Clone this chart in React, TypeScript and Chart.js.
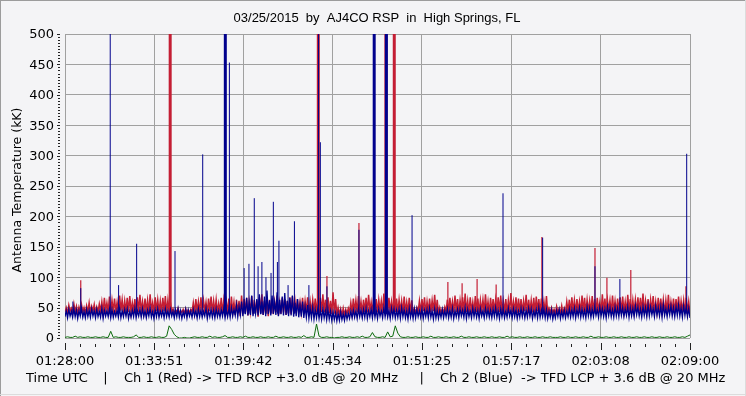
import React, { useEffect, useRef } from "react";
import { Chart, registerables } from "chart.js";

Chart.register(...registerables);

// ---------- text ----------
const TITLE = "03/25/2015  by  AJ4CO RSP  in  High Springs, FL";
const Y_TITLE = "Antenna Temperature (kK)";
const FOOTER_PARTS = [
  "Time UTC",
  "|",
  "Ch 1 (Red) -> TFD RCP +3.0 dB @ 20 MHz",
  "|",
  "Ch 2 (Blue)  -> TFD LCP + 3.6 dB @ 20 MHz",
];

// ---------- axes ----------
const xTickSeconds = [0, 351, 702, 1054, 1405, 1757, 2108, 2460];
const xTickLabels = ["01:28:00", "01:33:51", "01:39:42", "01:45:34", "01:51:25", "01:57:17", "02:03:08", "02:09:00"];
const yMin = 0;
const yMax = 500;
const yStep = 50;
const yMinorStep = 5;

// ---------- data: per 10-s bin maximum / minimum, starting 01:28:00 ----------
const BIN_S = 10;

const ch1RedMax = [
  50, 54, 49, 56, 52, 51, 55, 50, 53, 58,
  52, 55, 51, 56, 60, 66, 58, 68, 62, 65,
  59, 70, 63, 61, 66, 69, 58, 64, 67, 71,
  60, 65, 62, 72, 58, 67, 63, 61, 66, 69,
  62, 58, 48, 46, 49, 45, 47, 48, 46, 47,
  58, 64, 60, 67, 62, 59, 65, 68, 61, 63,
  57, 66, 62, 60, 65, 68, 59, 63, 61, 70,
  64, 66, 60, 69, 63, 62, 67, 72, 61, 66,
  63, 65, 60, 70, 58, 66, 64, 61, 67, 68,
  62, 64, 59, 66, 61, 67, 60, 63, 65, 64,
  66, 72, 63, 67, 61, 75, 64, 50, 48, 49,
  47, 49, 58, 65, 62, 69, 60, 63, 66, 71,
  59, 67, 64, 63, 61, 73, 62, 66, 60, 70,
  65, 63, 61, 68, 59, 66, 62, 48, 50, 61,
  64, 67, 60, 65, 62, 71, 63, 50, 48, 51,
  63, 66, 60, 70, 64, 62, 67, 73, 61, 67,
  59, 69, 65, 62, 63, 72, 60, 66, 64, 63,
  67, 70, 61, 64, 62, 74, 60, 67, 65, 64,
  61, 71, 63, 62, 66, 68, 64, 65, 60, 69,
  49, 50, 47, 52, 48, 53, 49, 60, 63, 67,
  62, 64, 60, 70, 66, 63, 61, 69, 64, 66,
  59, 72, 65, 63, 62, 70, 61, 65, 67, 68,
  60, 71, 64, 62, 63, 67, 66, 73, 61, 64,
  63, 69, 60, 66, 65, 63, 62, 71, 60, 65,
  64, 68, 61, 62, 66, 60, 55,
];

const ch1RedMin = [
  43, 41, 44, 42, 43, 40, 44, 42, 41, 43,
  42, 44, 41, 43, 44, 42, 45, 43, 41, 44,
  43, 42, 45, 41, 44, 43, 42, 44, 41, 43,
  44, 42, 43, 41, 45, 42, 44, 43, 42, 44,
  41, 43, 42, 40, 43, 41, 42, 40, 41, 42,
  43, 41, 44, 42, 43, 45, 41, 44, 42, 43,
  42, 44, 41, 43, 42, 40, 43, 38, 41, 36,
  40, 42, 37, 43, 39, 41, 35, 42, 38, 40,
  36, 41, 39, 43, 37, 40, 42, 38, 41, 39,
  43, 41, 44, 42, 40, 43, 41, 42, 44, 42,
  41, 43, 42, 40, 41, 39, 40, 38, 39, 37,
  38, 40, 42, 41, 43, 42, 44, 41, 43, 42,
  44, 41, 43, 42, 45, 41, 43, 42, 44, 41,
  43, 42, 44, 41, 43, 42, 40, 41, 42, 43,
  42, 44, 41, 43, 42, 44, 41, 40, 41, 42,
  43, 41, 44, 42, 43, 41, 45, 42, 43, 41,
  44, 42, 43, 41, 44, 42, 43, 41, 42, 44,
  41, 43, 42, 44, 41, 43, 42, 44, 41, 43,
  42, 44, 41, 43, 42, 41, 44, 42, 43, 41,
  40, 42, 41, 40, 42, 41, 40, 42, 43, 41,
  43, 42, 44, 41, 43, 42, 44, 41, 43, 42,
  44, 41, 43, 42, 45, 41, 43, 42, 44, 41,
  43, 42, 44, 41, 43, 42, 44, 42, 41, 43,
  42, 44, 41, 43, 42, 44, 41, 43, 42, 44,
  41, 43, 42, 44, 41, 42, 40,
];

const ch2BlueMax = [
  45, 47, 44, 48, 46, 45, 49, 44, 47, 46,
  48, 45, 47, 44, 49, 46, 45, 48, 47, 44,
  46, 49, 45, 47, 48, 44, 46, 49, 45, 47,
  48, 45, 46, 49, 44, 47, 48, 45, 46, 48,
  45, 47, 44, 46, 48, 45, 43, 47, 46, 44,
  47, 45, 48, 46, 44, 49, 45, 47, 46, 48,
  45, 47, 49, 46, 48, 50, 47, 55, 52, 60,
  58, 66, 57, 70, 55, 64, 72, 60, 68, 78,
  62, 70, 59, 75, 63, 68, 74, 61, 66, 70,
  58, 64, 55, 60, 52, 54, 49, 51, 47, 48,
  46, 48, 45, 47, 44, 43, 42, 41, 43, 40,
  42, 41, 44, 46, 45, 48, 46, 47, 49, 45,
  47, 49, 46, 48, 45, 50, 47, 46, 49, 48,
  46, 48, 50, 47, 45, 49, 46, 48, 47, 45,
  48, 46, 47, 49, 45, 48, 46, 44, 47, 45,
  48, 46, 49, 45, 47, 48, 46, 50, 47, 45,
  49, 47, 46, 48, 45, 49, 47, 46, 48, 50,
  46, 48, 47, 45, 49, 46, 48, 47, 45, 49,
  47, 46, 49, 48, 45, 47, 50, 46, 48, 47,
  44, 46, 43, 45, 47, 44, 46, 45, 48, 47,
  49, 47, 50, 48, 46, 51, 49, 48, 50, 47,
  51, 49, 48, 52, 50, 47, 51, 49, 53, 50,
  48, 52, 50, 49, 53, 51, 48, 52, 50, 54,
  51, 49, 53, 50, 52, 55, 49, 51, 53, 50,
  52, 54, 50, 53, 51, 49, 47,
];

const ch2BlueMin = [
  35, 33, 36, 34, 35, 32, 36, 34, 33, 35,
  34, 36, 33, 35, 34, 32, 36, 35, 33, 34,
  36, 34, 33, 35, 36, 32, 34, 35, 33, 36,
  34, 35, 33, 36, 34, 32, 35, 34, 36, 33,
  35, 34, 36, 33, 35, 34, 32, 35, 33, 36,
  34, 36, 33, 35, 34, 36, 32, 35, 34, 33,
  35, 34, 36, 33, 35, 34, 36, 37, 35, 38,
  36, 39, 37, 38, 36, 40, 37, 39, 38, 36,
  39, 37, 40, 38, 36, 39, 37, 38, 36, 37,
  35, 36, 34, 35, 33, 34, 32, 33, 31, 33,
  32, 31, 33, 30, 31, 29, 30, 28, 29, 30,
  29, 31, 32, 33, 34, 32, 35, 33, 34, 32,
  35, 33, 34, 32, 36, 33, 35, 34, 32, 35,
  33, 34, 32, 35, 33, 31, 34, 32, 33, 35,
  34, 32, 35, 33, 34, 31, 33, 32, 34, 33,
  35, 33, 34, 32, 35, 33, 36, 34, 32, 35,
  33, 35, 34, 32, 36, 33, 35, 34, 33, 35,
  34, 32, 35, 33, 34, 36, 33, 35, 32, 34,
  35, 33, 34, 36, 32, 35, 33, 34, 35, 33,
  32, 34, 31, 33, 35, 32, 34, 33, 35, 34,
  35, 33, 36, 34, 35, 33, 36, 34, 35, 37,
  34, 36, 35, 33, 37, 35, 34, 36, 35, 37,
  35, 37, 34, 36, 35, 38, 36, 34, 37, 35,
  36, 38, 35, 37, 36, 34, 37, 35, 38, 36,
  35, 37, 36, 34, 37, 35, 33,
];

const diffGreen = [
  1, 2, 1, 1, 3, 1, 2, 1, 1, 2,
  1, 1, 2, 1, 1, 2, 1, 1, 11, 1,
  2, 1, 1, 2, 1, 1, 1, 2, 5, 1,
  1, 2, 1, 1, 2, 1, 1, 2, 1, 1,
  3, 20, 14, 6, 2, 0, 0, 1, 0, 0,
  1, 2, 1, 1, 2, 1, 1, 3, 1, 2,
  1, 1, 2, 4, 1, 1, 2, 1, 1, 2,
  1, 3, 1, 1, 2, 1, 1, 2, 1, 1,
  2, 1, 1, 3, 1, 1, 2, 1, 1, 2,
  1, 1, 2, 1, 4, 1, 1, 2, 1, 23,
  3, 1, 1, 2, 1, 1, 0, 1, 1, 2,
  1, 1, 2, 1, 1, 2, 1, 3, 1, 1,
  2, 9, 2, 1, 1, 2, 1, 10, 2, 3,
  20, 8, 2, 1, 1, 2, 1, 1, 2, 1,
  1, 2, 1, 1, 3, 1, 1, 2, 1, 1,
  2, 1, 1, 2, 1, 1, 3, 1, 1, 2,
  1, 1, 2, 1, 1, 2, 1, 1, 2, 1,
  1, 2, 1, 1, 3, 1, 2, 1, 1, 2,
  1, 1, 2, 1, 1, 2, 1, 1, 2, 1,
  1, 2, 1, 1, 1, 2, 1, 1, 2, 1,
  1, 2, 1, 1, 2, 1, 1, 3, 1, 1,
  2, 1, 1, 2, 1, 1, 2, 1, 1, 2,
  1, 1, 2, 1, 1, 2, 1, 1, 2, 1,
  1, 2, 1, 1, 2, 1, 1, 2, 1, 1,
  2, 1, 1, 2, 1, 3, 5,
];

// short bursts (seconds after 01:28:00 and peak value, kK); 520 = off scale
const redSpikeTimes = [62, 1031, 1157, 1507, 1563, 1622, 1697, 1877, 2086, 2133, 2227, 2444];
const redSpikePeaks = [95, 102, 189, 92, 90, 97, 88, 166, 148, 99, 112, 85];
const redBurstTimes = [414, 997, 1263, 1296];
const redBurstPeaks = [520, 520, 520, 520];

const blueSpikeTimes = [31, 62, 178, 211, 282, 433, 542, 647, 705, 724, 745, 760, 775, 791, 811, 820, 836, 842, 878, 903, 960, 998, 1005, 1031, 1157, 1366, 1724, 1880, 2086, 2184, 2447];
const blueSpikePeaks = [60, 82, 520, 87, 155, 143, 302, 453, 115, 122, 230, 118, 125, 100, 107, 224, 125, 160, 87, 192, 87, 520, 322, 85, 178, 202, 238, 165, 118, 97, 303];
const blueBurstTimes = [631, 1217, 1265];
const blueBurstPeaks = [520, 520, 520];

// ---------- styling ----------
const BG = "#F4F4F6";
const GRID = "#A0A0A0";
const RED = "#C41E34";
const BLUE = "#00008C";
const GREEN = "#0B6A0B";

function envelope(maxs: number[], mins: number[]) {
  const out: { x: number; y: number }[] = [];
  maxs.forEach((hi, i) => {
    out.push({ x: i * BIN_S, y: mins[i] });
    out.push({ x: i * BIN_S + BIN_S / 2, y: hi });
  });
  return out;
}

function series(values: number[]) {
  return values.map((v, i) => ({ x: i * BIN_S, y: v }));
}

function spikes(times: number[], peaks: number[], base: number) {
  const out: { x: number; y: number | null }[] = [];
  times.forEach((t, i) => {
    out.push({ x: t, y: base });
    out.push({ x: t, y: peaks[i] });
    out.push({ x: t, y: null });
  });
  return out;
}

const decorPlugin = {
  id: "decor",
  beforeDraw(chart: any) {
    const { ctx, width, height } = chart;
    ctx.save();
    ctx.fillStyle = BG;
    ctx.fillRect(0, 0, width, height);
    ctx.restore();
  },
  afterDraw(chart: any) {
    const { ctx, width, height } = chart;
    const xs = chart.scales.x;
    const ys = chart.scales.y;
    ctx.save();

    // frame
    ctx.fillStyle = "#9C9C9C";
    ctx.fillRect(0, 0, width, 1);
    ctx.fillRect(0, 0, 1, height);
    ctx.fillStyle = "#DCDCDC";
    ctx.fillRect(width - 1, 0, 1, height);
    ctx.fillRect(0, height - 2, width, 1);

    // y tick marks (dotted)
    ctx.fillStyle = "#222";
    for (let v = yMin; v <= yMax; v += yMinorStep) {
      const py = Math.round(ys.getPixelForValue(v));
      if (v % yStep === 0) ctx.fillRect(57, py, 3, 1);
      else ctx.fillRect(58, py, 2, 1);
    }

    // x tick marks
    for (let k = 0; k < xTickSeconds.length; k++) {
      const px = Math.round(xs.getPixelForValue(xTickSeconds[k]));
      ctx.fillRect(px, 343, 1, 7);
      if (k < xTickSeconds.length - 1) {
        const a = xTickSeconds[k];
        const b = xTickSeconds[k + 1];
        for (let j = 1; j < 6; j++) {
          const mx = Math.round(xs.getPixelForValue(a + ((b - a) * j) / 6));
          ctx.fillRect(mx, 344, 1, 3);
        }
      }
    }

    ctx.fillStyle = "#000";
    ctx.textBaseline = "middle";

    // y labels
    ctx.font = '13px "DejaVu Sans"';
    ctx.textAlign = "right";
    for (let v = yMin; v <= yMax; v += yStep) {
      ctx.fillText(String(v), 54, ys.getPixelForValue(v) + 1);
    }

    // x labels
    ctx.textAlign = "center";
    xTickSeconds.forEach((s, i) => {
      ctx.fillText(xTickLabels[i], xs.getPixelForValue(s), 362);
    });

    // title
    ctx.font = '13px "Liberation Sans"';
    ctx.fillText(TITLE, 377, 18);

    // y title
    ctx.save();
    ctx.translate(18, 190);
    ctx.rotate(-Math.PI / 2);
    ctx.font = '12.5px "DejaVu Sans"';
    ctx.fillText(Y_TITLE, 0, 0);
    ctx.restore();

    // footer
    ctx.font = '13px "DejaVu Sans"';
    const fy = 379;
    ctx.textAlign = "left";
    ctx.fillText(FOOTER_PARTS[0], 26, fy, 62);
    ctx.textAlign = "center";
    ctx.fillText(FOOTER_PARTS[1], 105.5, fy);
    ctx.textAlign = "left";
    ctx.fillText(FOOTER_PARTS[2], 124, fy, 280);
    ctx.textAlign = "center";
    ctx.fillText(FOOTER_PARTS[3], 421.7, fy);
    ctx.textAlign = "left";
    ctx.fillText(FOOTER_PARTS[4], 440, fy, 291);

    ctx.restore();
  },
};

export default function App() {
  const canvasRef = useRef<HTMLCanvasElement | null>(null);

  useEffect(() => {
    document.body.style.margin = "0";
    const canvas = canvasRef.current;
    if (!canvas) return;

    const chart = new Chart(canvas, {
      type: "line",
      data: {
        datasets: [
          { label: "Diff", data: series(diffGreen), borderColor: GREEN, borderWidth: 1, order: 0 },
          { label: "Ch 2 bursts", data: spikes(blueBurstTimes, blueBurstPeaks, 40), borderColor: BLUE, borderWidth: 3, order: 1 },
          { label: "Ch 2 spikes", data: spikes(blueSpikeTimes, blueSpikePeaks, 40), borderColor: BLUE, borderWidth: 1, order: 2 },
          { label: "Ch 2 (Blue)", data: envelope(ch2BlueMax, ch2BlueMin), borderColor: BLUE, borderWidth: 1.3, order: 3 },
          { label: "Ch 1 bursts", data: spikes(redBurstTimes, redBurstPeaks, 45), borderColor: RED, borderWidth: 3, order: 4 },
          { label: "Ch 1 spikes", data: spikes(redSpikeTimes, redSpikePeaks, 45), borderColor: RED, borderWidth: 1.2, order: 5 },
          { label: "Ch 1 (Red)", data: envelope(ch1RedMax, ch1RedMin), borderColor: RED, borderWidth: 1.5, order: 6 },
        ] as any,
      },
      options: {
        animation: false,
        responsive: false,
        devicePixelRatio: 1,
        layout: { padding: { left: 0, right: 56, top: 34, bottom: 0 } },
        elements: {
          point: { radius: 0, hoverRadius: 0 },
          line: { tension: 0, fill: false },
        },
        spanGaps: false,
        plugins: {
          legend: { display: false },
          tooltip: { enabled: false },
          title: { display: false },
        },
        scales: {
          x: {
            type: "linear",
            min: xTickSeconds[0],
            max: xTickSeconds[xTickSeconds.length - 1],
            afterBuildTicks: (scale: any) => {
              scale.ticks = xTickSeconds.map((v) => ({ value: v }));
            },
            afterFit: (scale: any) => {
              scale.height = 58;
            },
            ticks: { display: false },
            grid: { color: GRID, lineWidth: 1, drawTicks: false },
            border: { display: false },
          },
          y: {
            type: "linear",
            min: yMin,
            max: yMax,
            ticks: { display: false, stepSize: yStep },
            afterFit: (scale: any) => {
              scale.width = 65;
            },
            grid: { color: GRID, lineWidth: 1, drawTicks: false },
            border: { display: false },
          },
        },
      } as any,
      plugins: [decorPlugin],
    });

    return () => chart.destroy();
  }, []);

  return (
    <div style={{ width: 746, height: 396 }}>
      <canvas ref={canvasRef} width={746} height={396} />
    </div>
  );
}
